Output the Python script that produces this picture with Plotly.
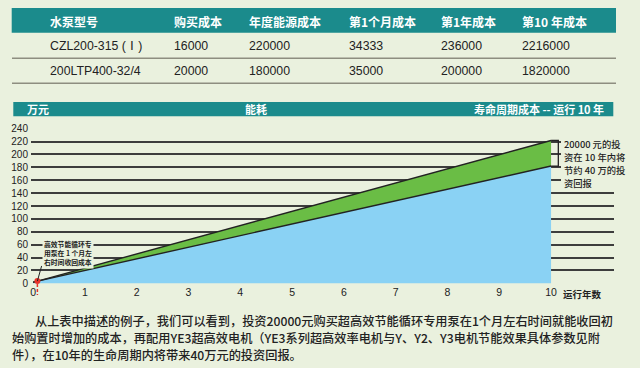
import plotly.graph_objects as go

# ---------------- data ----------------
table_headers = ["水泵型号", "购买成本", "年度能源成本", "第1个月成本", "第1年成本", "第10 年成本"]
pump_models = ["CZL200-315 (Ⅰ)", "200LTP400-32/4"]
purchase_cost = [16000, 20000]
annual_energy_cost = [220000, 180000]
first_month_cost = [34333, 35000]
first_year_cost = [236000, 200000]
tenth_year_cost = [2216000, 1820000]

run_years = [0, 10]                 # 运行年数
czl_cost_wan = [1.6, 221.6]         # CZL200-315 (Ⅰ) 累计成本, 万元
ltp_cost_wan = [2.0, 182.0]         # 200LTP400-32/4 累计成本, 万元
payback_year = [1 / 12]             # 约 1 个月收回成本
payback_cost_wan = [3.5]

y_ticks = list(range(0, 241, 20))
x_ticks = list(range(0, 11))

note_lines = ["20000 元的投", "资在 10 年内将", "节约 40 万的投", "资回报"]
paragraph_lines = [
    "从上表中描述的例子，我们可以看到，投资20000元购买超高效节能循环专用泵在1个月左右时间就能收回初",
    "始购置时增加的成本，再配用YE3超高效电机（YE3系列超高效率电机与Y、Y2、Y3电机节能效果具体参数见附",
    "件），在10年的生命周期内将带来40万元的投资回报。",
]

# ---------------- style ----------------
W, H = 640, 368
BG = "#EAF1DE"
TEAL = "#1B8B8C"
BLUE = "#8AD2F4"
GREEN = "#6ABD45"
DARK = "#222222"
CJK = "Noto Sans CJK SC"
LAT = "Arial, Liberation Sans, Noto Sans CJK SC, sans-serif"

L, R, T, B = 31, 614, 127.65, 283.95


def px(x):
    return (x - L) / (R - L)


def py(y):
    return (B - y) / (B - T)


fig = go.Figure()

fig.add_trace(go.Scatter(
    x=run_years, y=ltp_cost_wan, mode="lines", fill="tozeroy",
    fillcolor=BLUE, line=dict(color=DARK, width=1.4), hoverinfo="skip", showlegend=False))
fig.add_trace(go.Scatter(
    x=run_years, y=czl_cost_wan, mode="lines", fill="tonexty",
    fillcolor=GREEN, line=dict(color=DARK, width=1.4), hoverinfo="skip", showlegend=False))
fig.add_trace(go.Scatter(
    x=payback_year, y=payback_cost_wan, mode="markers", cliponaxis=False,
    marker=dict(color="#E8332A", size=6), hoverinfo="skip", showlegend=False))

shapes = []
# table header band
shapes.append(dict(type="rect", xref="paper", yref="paper", x0=px(11.7), x1=px(616),
                   y0=py(32.3), y1=py(7.3), fillcolor=TEAL, line=dict(width=0), layer="below"))
for yy in (57.7, 82.7):
    shapes.append(dict(type="line", xref="paper", yref="paper", x0=px(12), x1=px(616),
                       y0=py(yy), y1=py(yy), line=dict(color="#8E8E80", width=1.5)))
# chart title band
shapes.append(dict(type="rect", xref="paper", yref="paper", x0=px(13.3), x1=px(613.3),
                   y0=py(116), y1=py(101.5), fillcolor=TEAL, line=dict(width=0), layer="below"))
# bracket at year 10
shapes.append(dict(type="path", xref="x", yref="y",
                   path=f"M {run_years[1]},{czl_cost_wan[1]} L {run_years[1] + 0.14},{czl_cost_wan[1]} "
                        f"L {run_years[1] + 0.14},{ltp_cost_wan[1]} L {run_years[1]},{ltp_cost_wan[1]}",
                   line=dict(color=DARK, width=1.3)))
# mask of gridlines behind the right note
shapes.append(dict(type="rect", xref="paper", yref="paper", x0=px(561), x1=px(615),
                   y0=py(189), y1=py(137), fillcolor=BG, line=dict(width=0), layer="above"))
# red dashed payback marker
shapes.append(dict(type="line", xref="x", yref="paper", x0=payback_year[0], x1=payback_year[0],
                   y0=py(279), y1=py(295), line=dict(color="#E8332A", width=1.5, dash="3px,2px")))
# leader line of left note
shapes.append(dict(type="line", xref="x", yref="y", x0=payback_year[0], y0=payback_cost_wan[0],
                   x1=0.165, y1=27, line=dict(color=DARK, width=1)))

ann = []
# table header and rows
col_x = [48, 172, 247, 346.7, 439, 520]
for cx, txt in zip(col_x, table_headers):
    ann.append(dict(text=f"<b>{txt}</b>", x=px(cx), y=py(20.7), font=dict(family=CJK, size=12, color="white")))
rows = list(zip(pump_models, purchase_cost, annual_energy_cost, first_month_cost, first_year_cost, tenth_year_cost))
for ry, row in zip((45, 70.7), rows):
    for cx, v in zip(col_x, row):
        ann.append(dict(text=str(v), x=px(cx), y=py(ry), font=dict(family=LAT, size=12.3, color=DARK)))
# right note lines
for i, ln in enumerate(note_lines):
    ann.append(dict(text=ln, x=px(562), y=py(143.5 + i * 13),
                    font=dict(family=CJK, size=9.3, color=DARK, weight=500)))
for a in ann:
    a.update(xref="paper", yref="paper", xanchor="left", yanchor="middle", showarrow=False)

# chart title bar texts
ann.append(dict(text="<b>万元</b>", x=px(38), y=py(109), xref="paper", yref="paper", xanchor="center",
                yanchor="middle", showarrow=False, font=dict(family=CJK, size=11, color="white")))
ann.append(dict(text="<b>能耗</b>", x=px(256), y=py(109), xref="paper", yref="paper", xanchor="center",
                yanchor="middle", showarrow=False, font=dict(family=CJK, size=11, color="white")))
ann.append(dict(text="<b>寿命周期成本 -- 运行 10 年</b>", x=px(606), y=py(109), xref="paper", yref="paper",
                xanchor="right", yanchor="middle", showarrow=False, font=dict(family=CJK, size=11, color="white")))

# left note
ann.append(dict(text="<b>高效节能循环专<br>用泵在 1 个月左<br>右时间收回成本</b>", x=0.17, y=47,
                xref="x", yref="y", xanchor="left", yanchor="middle", align="left", showarrow=False,
                bgcolor=BG, borderpad=1, font=dict(family=CJK, size=6.8, color=DARK)))
# x axis title
ann.append(dict(text="<b>运行年数</b>", x=px(561), y=py(293.5), xref="paper", yref="paper", xanchor="left",
                yanchor="middle", showarrow=False, font=dict(family=CJK, size=9.5, color=DARK)))
# paragraph
for i, (ln, lx) in enumerate(zip(paragraph_lines, (33, 10, 10))):
    ann.append(dict(text=ln, x=px(lx), y=py(321 + i * 17), xref="paper", yref="paper", xanchor="left",
                    yanchor="middle", showarrow=False,
                    font=dict(family=CJK, size=12.2, color=DARK, weight=500)))

fig.update_layout(
    width=W, height=H, autosize=False,
    margin=dict(l=L, r=W - R, t=T, b=H - B, pad=0),
    paper_bgcolor=BG, plot_bgcolor=BG,
    shapes=shapes, annotations=ann, showlegend=False,
    xaxis=dict(range=[-0.04, 11.215], tickvals=x_ticks, showgrid=False, zeroline=False, showline=False,
               ticks="", tickfont=dict(family=LAT, size=10.5, color=DARK), fixedrange=True),
    yaxis=dict(range=[-1, 241], tickvals=y_ticks, showgrid=True, gridcolor="#3D3D3D", gridwidth=1.5,
               zeroline=False, showline=False, ticks="", ticklabelstandoff=2,
               tickfont=dict(family=LAT, size=10, color=DARK), fixedrange=True),
)

fig.write_html("out.html", config={"displayModeBar": False},
               post_script="document.body.style.margin='0';document.body.style.padding='0';"
                           "document.body.style.background='" + BG + "';")
